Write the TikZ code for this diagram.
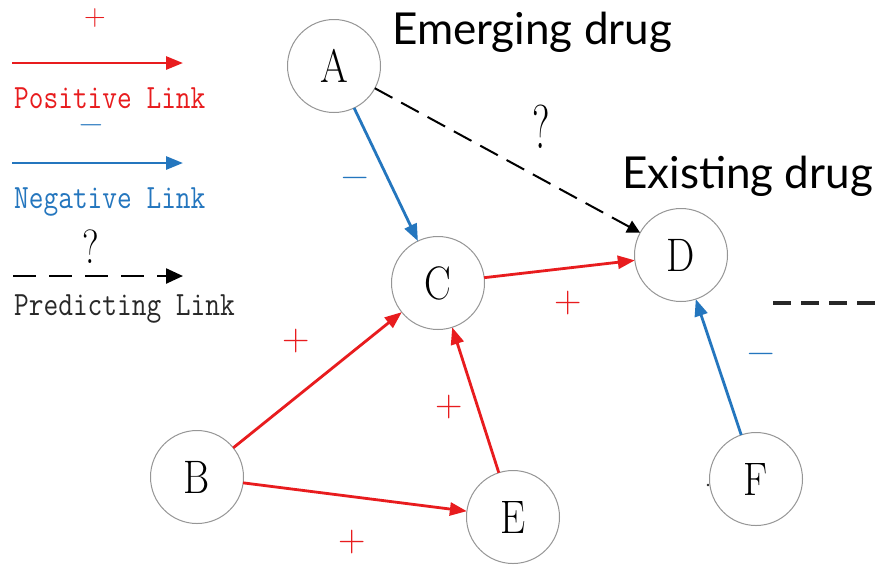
\documentclass[tikz,border=0pt]{standalone}
\usepackage{fontspec}
\usepackage{graphicx}
\newfontfamily\titlefont{Lato}
\usetikzlibrary{arrows.meta}
\definecolor{posred}{RGB}{232,28,30}
\definecolor{negblue}{RGB}{36,118,190}
\definecolor{ringgray}{RGB}{150,150,150}
\definecolor{darkink}{RGB}{40,40,40}
\newcommand{\minussign}{\symbol{"2212}}
\begin{document}
\begin{tikzpicture}[x=1pt,y=-1pt,
  drugnode/.style={circle, draw=ringgray, line width=1pt, minimum size=93pt,
    inner sep=0pt, outer sep=0pt, font=\fontsize{47}{47}\selectfont},
  poslink/.style={draw=posred, line width=2.8pt, -{Triangle[length=17pt,width=13pt]}},
  neglink/.style={draw=negblue, line width=2.8pt, -{Triangle[length=17pt,width=13pt]}},
  predlink/.style={draw=black, line width=2pt, dash pattern=on 20pt off 10pt,
    -{Triangle[length=13pt,width=13pt]}},
  legpred/.style={draw=black, line width=2.4pt, dash pattern=on 23pt off 13pt,
    -{Triangle[length=17pt,width=15pt]}},
  fragdash/.style={draw=darkink, line width=3.5pt, dash pattern=on 18pt off 10pt},
  legtext/.style={anchor=base west, inner sep=0pt, font=\ttfamily\fontsize{34}{34}\selectfont},
  title/.style={anchor=base west, inner sep=0pt, font=\titlefont\fontsize{44}{44}\selectfont},
  sign/.style={inner sep=0pt, font=\fontsize{38}{38}\selectfont},
  qmark/.style={inner sep=0pt, font=\fontsize{62}{62}\selectfont}
]
\useasboundingbox[fill=white] (0,0) rectangle (877,566);

% drug nodes
\node[drugnode] (A) at (334,66)  {\scalebox{0.85}[1]{A}};
\node[drugnode] (C) at (438,283) {\scalebox{0.85}[1]{C}};
\node[drugnode] (D) at (681,255) {\scalebox{0.85}[1]{D}};
\node[drugnode] (B) at (197,477) {\scalebox{0.85}[1]{B}};
\node[drugnode] (E) at (513,517) {\scalebox{0.85}[1]{E}};
\node[drugnode] (F) at (756,479) {\scalebox{0.85}[1]{F}};

% links between drugs
\draw[neglink] (A) -- (C);
\draw[predlink] (A) -- (D);
\draw[poslink] (C) -- (D);
\draw[poslink] (B) -- (C);
\draw[poslink] (B) -- (E);
\draw[poslink] (E) -- (C);
\draw[neglink] (F) -- (D);

% link signs
\node[sign, text=negblue] (sAC) at (355,182) {\minussign};
\node[qmark, text=black] (sAD) at (541,127) {\scalebox{0.65}[1]{?}};
\node[sign, text=posred] (sCD) at (568,303) {+};
\node[sign, text=posred] (sBC) at (296,341) {+};
\node[sign, text=posred] (sEC) at (449,407) {+};
\node[sign, text=posred] (sBE) at (352,542) {+};
\node[sign, text=negblue] (sFD) at (761,358) {\minussign};

% headings
\node[title] (emerging) at (392,44) {Emerging drug};
\node[title] (existing) at (622,188) {Existing drug};

% dashed fragment on the right and a stray dot
\coordinate (fragL) at (773,303);
\coordinate (fragR) at (877,303);
\draw[fragdash] (fragL) -- (fragR);
\fill[darkink] (708,485) circle (1.3pt);

% legend
\node[sign, text=posred, font=\fontsize{30}{30}\selectfont] (legplus) at (95,18) {+};
\coordinate (p1) at (12,63);  \coordinate (p2) at (183,63);
\draw[poslink] (p1) -- (p2);
\node[legtext, text=posred] (legpos) at (14,108) {\scalebox{0.84}[1]{Positive Link}};

\node[sign, text=negblue, font=\fontsize{33}{33}\selectfont, anchor=base,
      text height=10pt, text depth=0pt] (legminus) at (91,133) {\minussign};
\coordinate (n1) at (12,163); \coordinate (n2) at (183,163);
\draw[neglink] (n1) -- (n2);
\node[legtext, text=negblue] (legneg) at (14,208) {\scalebox{0.84}[1]{Negative Link}};

\node[qmark, text=black, font=\fontsize{48}{48}\selectfont] (legq) at (91,247) {\scalebox{0.8}[1]{?}};
\coordinate (q1) at (13,276); \coordinate (q2) at (183,276);
\draw[legpred] (q1) -- (q2);
\node[legtext, text=darkink] (legpred) at (14,315) {\scalebox{0.84}[1]{Predicting Link}};
\end{tikzpicture}
\end{document}
